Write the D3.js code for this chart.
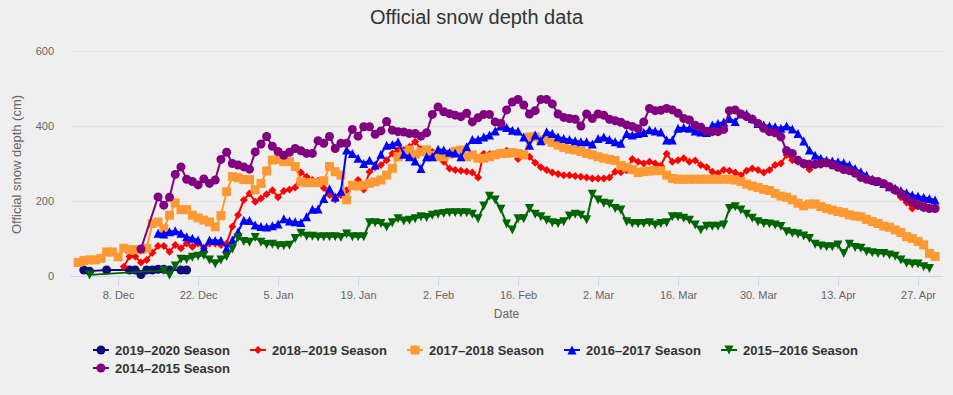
<!DOCTYPE html>
<html>
<head>
<meta charset="utf-8">
<script src="https://cdn.jsdelivr.net/npm/d3@7/dist/d3.min.js"></script>
<style>
    body { margin: 0; background: #efefef; }
    svg { display: block; font-family: "Liberation Sans", Arial, sans-serif; }
</style>
</head>
<body>
<div id="chart"></div>
<script>
// daily readings, index 0 = 1 Dec, null = no reading that day
const seasonNames = ["2019–2020 Season", "2018–2019 Season", "2017–2018 Season",
                     "2016–2017 Season", "2015–2016 Season", "2014–2015 Season"];
const seasonColors = ["#0c0c7a", "#ff0000", "#ff9933", "#0000ff", "#006400", "#800080"];
const seasonSymbols = ["circle", "diamond", "square", "triangle", "triangle-down", "circle"];

const depth2019 = [null, 16, 13, null, null, 16, null, null, null, 16, 16, 4, 16, 16, 18, 18, 16, null, 16, 16];

const depth2018 = [null, null, null, null, null, null, null, null,
    25, 52, 52, 36, 43, 62, 80, 80, 65, 83, 74, 87, 78, 87, 74, 87, 87, 83, 87, 132, 163, 203,
    220, 198, 207, 218, 229, 210, 227, 231, 236, 276, 265, 256, 254, 235, 216, 204, 216, 229, 240, 256,
    231, 278, 290, 296, 309, 327, 336, 336, 345, 358, 338, 338, 331, 322, 305, 287, 283, 281, 279, 276,
    263, 326, 325, 325, 327, 334, 331, 312, 322, 318, 302, 290, 283, 276, 272, 269, 269, 267, 265, 263,
    260, 260, 260, 263, 278, 277, 282, 312, 305, 300, 305, 300, 294, 326, 305, 309, 314, 305, 308, 296,
    290, 278, 274, 283, 281, 276, 269, 281, 287, 283, 276, 283, 296, 300, 323, 309, 305, 296, 284, 296,
    296, 300, 298, 294, 290, 285, 276, 268, 262, 258, 252, 248, 240, 228, 210, 196, 180, 186, 192, 185, 180];

const depth2017 = [36, 41, 43, 43, 47, 64, 64, 51, 74, 70, 70, 70, 74, 140, 144, 126, 162, 195, 177, 177,
    162, 155, 149, 144, 131, 161, 225, 265, 262, 257, 257, 230, 247, 280, 309, 311, 305, 305, 292, 251,
    249, 249, 249, 254, 292, 278, 269, 203, 242, 240, 242, 247, 251, 256, 269, 287, 318, 327, 336, 325,
    331, 336, 322, 318, 318, 325, 333, 336, 318, 323, 314, 314, 318, 323, 327, 327, 329, 327, 323, 371,
    371, 363, 363, 356, 349, 343, 338, 336, 332, 327, 323, 318, 314, 311, 308, 295, 290, 284, 276, 278,
    280, 281, 281, 269, 260, 258, 258, 258, 258, 258, 258, 258, 258, 258, 258, 256, 252, 245, 240, 236,
    231, 228, 220, 213, 210, 203, 194, 187, 192, 192, 185, 180, 176, 172, 169, 163, 160, 158, 151, 145,
    140, 133, 130, 123, 116, 105, 100, 92, 83, 60, 52];

const depth2016 = [null, null, null, null, null, null, null, null, null, null, null, null, null, null,
    114, 112, 118, 121, 114, 105, 101, 96, 74, 96, 95, 95, 74, 96, 118, 149,
    148, 136, 132, 131, 134, 139, 153, 147, 145, 143, 158, 178, 179, 207, 233, 211, 226, 336, 327, 314,
    300, 309, 296, 325, 349, 351, 358, 325, 318, 307, 287, 318, 318, 338, 336, 330, 328, 318, 345, 364,
    364, 371, 376, 387, 400, 396, 389, 387, 371, 349, 376, 361, 385, 380, 371, 367, 364, 361, 358, 358,
    352, 367, 371, 364, 358, 354, 380, 376, 380, 383, 390, 387, 384, 363, 363, 394, 396, 394, 387, 384,
    383, 403, 407, 411, 420, 412, 433, 433, 420, 407, 403, 400, 398, 394, 400, 392, 380, 360, 336, 322,
    314, 309, 307, 305, 302, 296, 287, 278, 269, 258, 252, 247, 238, 234, 228, 222, 216, 213, 210, 207, 203];

const depth2015 = [null, null, 3, null, null, null, null, null, null, null, null, null, null, null, null,
    15, 2, 27, 45, 44, 50, 53, 55, 43, 33, 43, 52, 72, 102, 92,
    90, 103, 90, 84, 85, 81, 81, 82, 100, 114, 106, 106, 104, 105, 105, 105, 103, 112, 105, 105,
    105, 142, 142, 140, 131, 142, 153, 147, 149, 153, 158, 156, 162, 165, 167, 169, 169, 169, 169, 165,
    153, 187, 213, 203, 178, 139, 123, 153, 153, 180, 165, 158, 149, 142, 140, 145, 160, 165, 162, 150,
    218, 203, 194, 192, 180, 176, 145, 140, 140, 140, 142, 136, 140, 142, 158, 158, 154, 149, 136, 123,
    133, 133, 133, 136, 180, 185, 176, 165, 154, 145, 140, 139, 136, 132, 118, 114, 112, 107, 100, 85,
    80, 78, 78, 83, 60, 85, 76, 74, 65, 62, 60, 60, 56, 53, 43, 34, 32, 32, 25, 20];

const depth2014 = [null, null, null, null, null, null, null, null, null, null, null, 72, null, null,
    211, 189, 210, 271, 291, 258, 252, 243, 259, 247, 256, 311, 330, 300, 296, 291,
    285, 331, 352, 372, 346, 332, 322, 330, 340, 334, 327, 327, 361, 354, 372, 340, 354, 354, 391, 373,
    398, 398, 378, 387, 412, 389, 385, 384, 380, 380, 373, 382, 431, 451, 438, 433, 429, 425, 434, 411,
    422, 431, 431, 411, 407, 443, 464, 471, 456, 432, 441, 471, 471, 459, 432, 423, 420, 418, 400, 432,
    420, 432, 429, 418, 414, 410, 403, 399, 393, 411, 447, 441, 442, 447, 443, 434, 420, 416, 402, 397,
    386, 385, 385, 391, 441, 443, 432, 425, 418, 407, 394, 385, 382, 371, 334, 327, 309, 300, 298, 298,
    300, 302, 296, 290, 284, 281, 274, 263, 258, 254, 252, 246, 238, 229, 220, 207, 198, 189, 183, 180, 180];

const seasonDepths = [depth2019, depth2018, depth2017, depth2016, depth2015, depth2014];

const yTicks = [0, 200, 400, 600];
const firstTick = Date.UTC(2018, 11, 8);   // 8 Dec, then every 14 days

const width = 953, height = 395;
const plot = { left: 70, right: 943, top: 51, bottom: 276 };

const svg = d3.select('#chart')
    .append('svg')
    .attr('width', width)
    .attr('height', height);

svg.append('rect')
    .attr('width', width)
    .attr('height', height)
    .attr('fill', '#efefef');

// seasons are laid over one Dec-Apr calendar (non-leap)
const dayDate = i => new Date(Date.UTC(2018, 11, 1 + i));

const x = d3.scaleUtc()
    .domain([new Date(Date.UTC(2018, 10, 29, 14)), new Date(Date.UTC(2019, 4, 1, 9))])
    .range([plot.left, plot.right]);

const y = d3.scaleLinear()
    .domain([0, 600])
    .range([plot.bottom, plot.top]);

// title
svg.append('text')
    .attr('x', width / 2)
    .attr('y', 24)
    .attr('text-anchor', 'middle')
    .attr('fill', '#333333')
    .style('font-size', '20px')
    .text('Official snow depth data');

// grid + y labels
const yAxis = d3.axisLeft(y)
    .tickValues(yTicks)
    .tickSize(-(plot.right - plot.left))
    .tickPadding(16);

const gy = svg.append('g')
    .attr('transform', `translate(${plot.left},0)`)
    .call(yAxis);
gy.select('.domain').remove();
gy.selectAll('line').attr('stroke', '#e2e2e2').attr('stroke-width', 1);
gy.selectAll('text')
    .attr('fill', '#666666')
    .style('font-size', '11px')
    .style('font-family', '"Liberation Sans", Arial, sans-serif');

svg.append('text')
    .attr('transform', `translate(21,${(plot.top + plot.bottom) / 2 + 1}) rotate(-90)`)
    .attr('text-anchor', 'middle')
    .attr('fill', '#666666')
    .style('font-size', '13px')
    .text('Official snow depth (cm)');

// x axis
const xTickDates = d3.utcDay.range(new Date(firstTick), x.domain()[1], 14);
const xAxis = d3.axisBottom(x)
    .tickValues(xTickDates)
    .tickSize(10)
    .tickPadding(5)
    .tickFormat(d3.utcFormat('%-d. %b'));

const gx = svg.append('g')
    .attr('transform', `translate(0,${plot.bottom})`)
    .call(xAxis);
gx.select('.domain')
    .attr('stroke', '#ccd6eb')
    .attr('d', `M${plot.left},0.5H${plot.right}`);
gx.selectAll('line').attr('stroke', '#ccd6eb');
gx.selectAll('text')
    .attr('fill', '#666666')
    .style('font-size', '11px')
    .style('font-family', '"Liberation Sans", Arial, sans-serif');

svg.append('text')
    .attr('x', (plot.left + plot.right) / 2)
    .attr('y', 318)
    .attr('text-anchor', 'middle')
    .attr('fill', '#666666')
    .style('font-size', '12px')
    .text('Date');

// marker shapes, roughly like the original's
function symbolPath(type, r) {
    switch (type) {
        case 'square': return `M${-r},${-r}H${r}V${r}H${-r}Z`;
        case 'diamond': return `M0,${-r}L${r},0L0,${r}L${-r},0Z`;
        case 'triangle': return `M0,${-r}L${r},${r}L${-r},${r}Z`;
        case 'triangle-down': return `M${-r},${-r}L${r},${-r}L0,${r}Z`;
        default: return `M${r},0A${r},${r} 0 1,1 ${-r},0A${r},${r} 0 1,1 ${r},0Z`;
    }
}
const symbolSize = { circle: 4.5, square: 4.5, diamond: 4, triangle: 4.5, 'triangle-down': 4.5 };

const line = d3.line()
    .x(d => x(d.date))
    .y(d => y(d.value));

const seriesG = svg.append('g');

seasonNames.forEach((name, s) => {
    const points = seasonDepths[s]
        .map((v, i) => ({ date: dayDate(i), value: v }))
        .filter(d => d.value != null);
    const g = seriesG.append('g').attr('class', 'series');
    g.append('path')
        .datum(points)
        .attr('fill', 'none')
        .attr('stroke', seasonColors[s])
        .attr('stroke-width', 2)
        .attr('stroke-linejoin', 'round')
        .attr('d', line);
    g.selectAll('path.marker')
        .data(points)
        .enter().append('path')
        .attr('class', 'marker')
        .attr('transform', d => `translate(${x(d.date)},${y(d.value)})`)
        .attr('fill', seasonColors[s])
        .attr('d', symbolPath(seasonSymbols[s], symbolSize[seasonSymbols[s]]));
});

// legend
const legend = svg.append('g');
seasonNames.forEach((name, s) => {
    const lx = 93 + (s % 5) * 157;
    const ly = 350 + Math.floor(s / 5) * 18;
    const item = legend.append('g').attr('transform', `translate(${lx},${ly})`);
    item.append('line')
        .attr('x1', 0).attr('x2', 16)
        .attr('stroke', seasonColors[s])
        .attr('stroke-width', 2);
    item.append('path')
        .attr('transform', 'translate(8,0)')
        .attr('fill', seasonColors[s])
        .attr('d', symbolPath(seasonSymbols[s], symbolSize[seasonSymbols[s]]));
    item.append('text')
        .attr('x', 22)
        .attr('y', 4.5)
        .attr('fill', '#333333')
        .style('font-size', '13px')
        .style('font-weight', 'bold')
        .text(name);
});
</script>
</body>
</html>
